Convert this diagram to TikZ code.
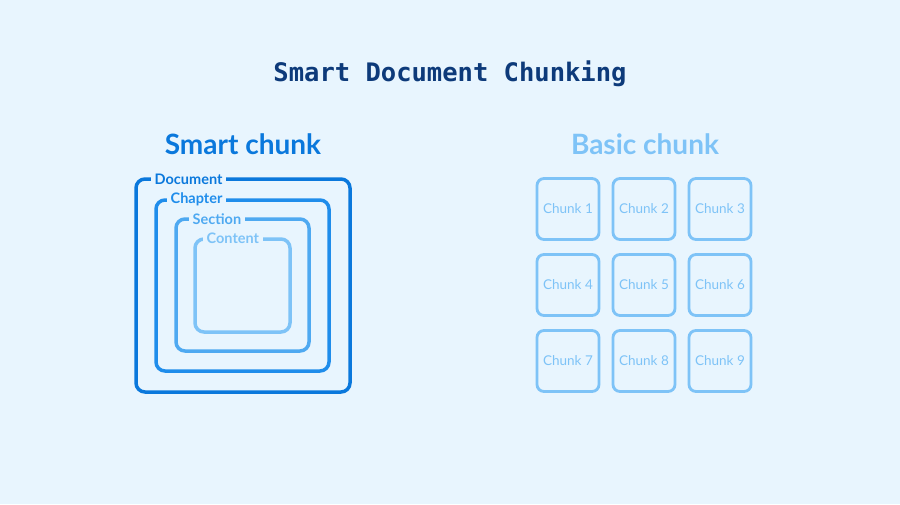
\documentclass[tikz,border=0pt]{standalone}
\usepackage{fontspec}
\setmainfont{Lato}
\newfontfamily\titlemono{DejaVu Sans Mono}
\definecolor{bg}{HTML}{E8F5FE}
\definecolor{navy}{HTML}{0D3A7A}
\definecolor{cdoc}{HTML}{0A78DC}
\definecolor{cchap}{HTML}{1F8DEB}
\definecolor{csec}{HTML}{4EA9F1}
\definecolor{ccont}{HTML}{7EC3F7}
\begin{document}
\begin{tikzpicture}[x=1pt,y=-1pt,
  frame/.style={draw=#1, line width=3.5pt, rounded corners=9pt},
  lab/.style={fill=bg, text=#1, font=\fontsize{14.5}{14.5}\selectfont\bfseries, inner xsep=3.5pt, inner ysep=0pt, anchor=west},
  chunk/.style={draw=ccont, line width=2.8pt, rounded corners=7pt, minimum width=62pt, minimum height=61pt, text=ccont, font=\fontsize{13.5}{14}\selectfont},
  head/.style={font=\fontsize{28}{30}\selectfont\bfseries}]
\fill[bg] (0,0) rectangle (900,504);
\node[text=navy, font=\titlemono\fontsize{25.5}{28}\selectfont\bfseries] (title) at (450,74) {Smart Document Chunking};
\node[text=cdoc, head] (smart) at (243,144) {Smart chunk};
\node[text=ccont, head] (basic) at (645,144) {Basic chunk};
\draw[frame=cdoc] (136,179) rectangle (350,392);
\node[lab=cdoc] (ldoc) at (151,179) {Document};
\draw[frame=cchap] (156,200) rectangle (329,371);
\node[lab=cchap] (lchap) at (167,199) {Chapter};
\draw[frame=csec] (176,219) rectangle (309,351);
\node[lab=csec] (lsec) at (189,219) {Section};
\draw[frame=ccont] (195,239) rectangle (290,332);
\node[lab=ccont] (lcont) at (203,238) {Content};
\foreach \i/\x/\y in {1/568/209,2/644/209,3/720/209,4/568/285,5/644/285,6/720/285,7/568/361,8/644/361,9/720/361}
  \node[chunk] (c\i) at (\x,\y) {Chunk \i};
\end{tikzpicture}
\end{document}
